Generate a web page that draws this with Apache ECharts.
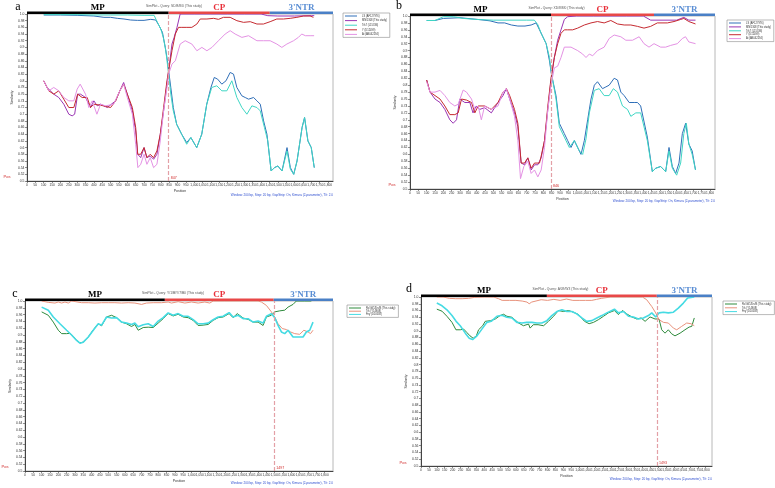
<!DOCTYPE html>
<html><head><meta charset="utf-8">
<script src="https://cdn.jsdelivr.net/npm/echarts/dist/echarts.min.js"></script>
<style>html,body{margin:0;padding:0;background:#fff}#c{width:775px;height:488px}</style>
</head><body><div id="c"></div>
<script>
// ---------------- DATA ----------------
const aTitle = 'SimPlot - Query: SD/8/8/0 (This study)';
const bTitle = 'SimPlot - Query: XD/8/8/0 (This study)';
const cTitle = 'SimPlot - Query: Y/1/B/Y/7/B0 (This study)';
const dTitle = 'SimPlot - Query: A/09/W3 (This study)';
const footerText = 'Window: 200 bp, Step: 20 bp, GapStrip: On, Kimura (2-parameter), T/t: 2.0';

const aNames = ['LS (AF127976)', 'MN/1308 (This study)', 'Trk7 (L15336)', 'Y (D12499)', 'Ai (AB042294)'];
const bNames = ['LS (AF127976)', 'MN/1308 (This study)', 'Trk7 (L15336)', 'Y (D12499)', 'Ai (AB042294)'];
const cNames = ['Rs/Gl/1/Dn/B (This study)', 'Trk (Y14908)', 'Fny (D10538)'];
const dNames = ['Rs/Gl/1/Dn/B (This study)', 'Trk (Y14908)', 'Fny (D10538)'];

const breakpoints = [847, 846, 1497, 1493];
const regionNames = ['MP', 'CP', "3'NTR"];
const regionEndsA = [0, 847, 1452, 1830];
const regionEndsB = [0, 846, 1464, 1830];
const regionEndsC = [0, 840, 1494, 1850];
const regionEndsD = [0, 796, 1491, 1840];

// panel a
const aLS = [[100,0.997],[200,0.997],[300,0.996],[400,0.994],[460,0.99],[500,0.99],[540,0.987],[580,0.985],[620,0.982],[660,0.981],[700,0.981],[740,0.984],[770,0.982],[790,0.965],[810,0.945],[827,0.90],[840,0.86],[847,0.83],[860,0.78],[875,0.72],[895,0.67],[925,0.64],[955,0.615],[980,0.63],[1015,0.60],[1045,0.64],[1075,0.73],[1100,0.78],[1120,0.81],[1140,0.805],[1165,0.79],[1190,0.80],[1215,0.825],[1235,0.82],[1255,0.78],[1285,0.755],[1305,0.75],[1325,0.745],[1355,0.75],[1375,0.74],[1395,0.73],[1415,0.68],[1435,0.64],[1460,0.53],[1480,0.54],[1500,0.545],[1525,0.53],[1555,0.60],[1575,0.54],[1595,0.52],[1615,0.56],[1645,0.66],[1660,0.69],[1680,0.62],[1700,0.60],[1718,0.54]];
const aMN = [[100,0.80],[120,0.78],[160,0.76],[190,0.75],[220,0.73],[250,0.70],[270,0.695],[285,0.70],[303,0.76],[320,0.76],[350,0.75],[380,0.72],[400,0.74],[420,0.725],[440,0.73],[480,0.72],[530,0.74],[555,0.77],[578,0.795],[600,0.76],[630,0.71],[650,0.65],[662,0.58],[680,0.57],[700,0.60],[717,0.57],[737,0.575],[757,0.565],[777,0.58],[797,0.64],[817,0.71],[837,0.79],[847,0.83],[867,0.91],[880,0.93],[897,0.96],[916,1.0],[1000,1.0],[1100,1.0],[1200,1.0],[1300,1.0],[1400,1.0],[1440,0.995],[1500,0.994],[1600,0.994],[1700,0.995],[1718,0.995]];
const aTrk = [[100,0.998],[200,0.998],[300,0.998],[400,0.997],[500,0.997],[600,0.997],[700,0.996],[760,0.996],[780,0.975],[800,0.955],[815,0.93],[830,0.89],[847,0.82],[860,0.76],[875,0.71],[895,0.67],[925,0.64],[955,0.61],[980,0.63],[1015,0.60],[1045,0.64],[1075,0.73],[1105,0.78],[1135,0.785],[1165,0.77],[1195,0.77],[1225,0.80],[1255,0.75],[1285,0.72],[1315,0.70],[1345,0.725],[1375,0.72],[1395,0.71],[1420,0.66],[1440,0.62],[1460,0.53],[1480,0.54],[1500,0.545],[1525,0.53],[1555,0.59],[1575,0.535],[1595,0.52],[1615,0.56],[1645,0.66],[1660,0.69],[1680,0.62],[1700,0.60],[1718,0.54]];
const aY = [[100,0.80],[130,0.77],[160,0.76],[190,0.77],[220,0.745],[250,0.72],[280,0.72],[303,0.76],[330,0.75],[360,0.75],[380,0.72],[400,0.73],[440,0.727],[500,0.72],[530,0.74],[555,0.77],[578,0.79],[600,0.76],[630,0.72],[650,0.66],[662,0.58],[680,0.58],[700,0.60],[717,0.57],[737,0.58],[757,0.57],[777,0.59],[797,0.64],[817,0.72],[837,0.80],[847,0.83],[867,0.89],[887,0.94],[906,0.96],[926,0.96],[956,0.96],[986,0.96],[1016,0.97],[1036,0.985],[1076,0.985],[1116,0.987],[1145,0.984],[1175,0.99],[1215,0.99],[1255,0.98],[1295,0.975],[1335,0.977],[1375,0.97],[1414,0.97],[1454,0.977],[1494,0.985],[1534,0.985],[1574,0.987],[1614,0.99],[1654,0.994],[1693,0.994],[1713,0.99]];
const aAi = [[100,0.80],[130,0.77],[160,0.78],[190,0.77],[220,0.75],[250,0.74],[280,0.74],[300,0.775],[318,0.79],[350,0.76],[370,0.72],[390,0.74],[418,0.70],[440,0.73],[470,0.725],[518,0.73],[555,0.77],[578,0.79],[600,0.75],[630,0.70],[650,0.61],[663,0.54],[680,0.55],[700,0.58],[717,0.55],[737,0.57],[757,0.54],[777,0.55],[797,0.62],[817,0.71],[837,0.78],[847,0.82],[867,0.85],[887,0.86],[916,0.91],[946,0.92],[986,0.91],[1016,0.89],[1046,0.90],[1076,0.89],[1106,0.90],[1145,0.92],[1185,0.94],[1215,0.95],[1245,0.94],[1285,0.93],[1325,0.935],[1375,0.92],[1414,0.92],[1454,0.92],[1494,0.91],[1524,0.90],[1554,0.91],[1594,0.92],[1623,0.93],[1643,0.94],[1665,0.935],[1693,0.935],[1717,0.935]];

// panel b
const bLS = [[100,0.987],[150,0.987],[200,0.993],[300,0.995],[408,0.99],[480,0.986],[528,0.98],[568,0.98],[608,0.974],[647,0.971],[690,0.971],[727,0.974],[757,0.98],[777,0.96],[797,0.94],[817,0.92],[837,0.87],[846,0.84],[856,0.815],[876,0.77],[896,0.69],[926,0.66],[946,0.64],[966,0.62],[986,0.64],[1006,0.62],[1026,0.60],[1046,0.64],[1066,0.70],[1086,0.76],[1106,0.80],[1125,0.81],[1155,0.79],[1175,0.795],[1195,0.80],[1225,0.82],[1245,0.815],[1265,0.78],[1285,0.77],[1315,0.75],[1345,0.75],[1365,0.75],[1384,0.74],[1424,0.65],[1454,0.55],[1474,0.56],[1504,0.565],[1534,0.55],[1554,0.62],[1574,0.565],[1594,0.545],[1614,0.575],[1634,0.66],[1654,0.69],[1673,0.63],[1693,0.61],[1713,0.555]];
const bMN = [[100,0.815],[120,0.78],[150,0.76],[180,0.75],[209,0.73],[239,0.70],[259,0.69],[279,0.70],[299,0.76],[329,0.75],[359,0.75],[378,0.72],[398,0.74],[418,0.73],[448,0.735],[488,0.72],[528,0.75],[558,0.77],[578,0.79],[598,0.76],[627,0.72],[647,0.68],[667,0.575],[687,0.57],[707,0.59],[727,0.555],[747,0.57],[767,0.57],[787,0.59],[807,0.64],[827,0.73],[846,0.815],[866,0.88],[886,0.93],[906,0.96],[926,0.99],[946,0.998],[1000,1.0],[1100,1.0],[1200,1.0],[1300,1.0],[1400,1.0],[1444,0.988],[1500,0.988],[1600,0.988],[1643,0.996],[1673,0.988],[1713,0.988]];
const bTrk = [[100,0.987],[150,0.987],[200,0.998],[260,0.998],[320,0.993],[400,0.99],[500,0.988],[600,0.988],[700,0.988],[746,0.988],[767,0.975],[787,0.95],[817,0.92],[837,0.88],[846,0.84],[856,0.815],[876,0.76],[896,0.68],[926,0.65],[956,0.62],[986,0.64],[1016,0.61],[1036,0.60],[1056,0.645],[1076,0.72],[1106,0.785],[1135,0.79],[1165,0.77],[1195,0.77],[1220,0.79],[1245,0.78],[1275,0.74],[1305,0.73],[1325,0.71],[1355,0.72],[1384,0.72],[1424,0.64],[1454,0.55],[1474,0.56],[1504,0.565],[1534,0.55],[1554,0.61],[1574,0.56],[1600,0.54],[1624,0.575],[1643,0.66],[1658,0.69],[1673,0.63],[1693,0.60],[1713,0.555]];
const bY = [[100,0.815],[120,0.78],[150,0.77],[180,0.76],[209,0.74],[239,0.715],[269,0.715],[289,0.72],[309,0.76],[339,0.757],[369,0.75],[389,0.72],[409,0.74],[448,0.74],[488,0.73],[528,0.75],[558,0.78],[578,0.79],[598,0.77],[627,0.73],[647,0.69],[667,0.575],[687,0.575],[707,0.59],[727,0.56],[747,0.575],[777,0.575],[787,0.595],[807,0.64],[827,0.74],[846,0.82],[866,0.88],[886,0.92],[906,0.95],[926,0.96],[946,0.96],[976,0.96],[1006,0.965],[1046,0.974],[1086,0.98],[1125,0.984],[1165,0.98],[1205,0.987],[1245,0.977],[1285,0.974],[1325,0.974],[1365,0.97],[1404,0.965],[1444,0.97],[1484,0.98],[1544,0.98],[1584,0.984],[1624,0.99],[1643,0.993],[1673,0.984],[1713,0.977]];
const bAi = [[100,0.81],[120,0.78],[150,0.78],[180,0.785],[209,0.77],[239,0.75],[269,0.74],[289,0.745],[319,0.786],[339,0.78],[369,0.76],[389,0.73],[409,0.74],[428,0.70],[448,0.74],[488,0.73],[528,0.74],[558,0.78],[578,0.79],[598,0.76],[627,0.71],[647,0.64],[663,0.53],[683,0.565],[707,0.58],[727,0.545],[747,0.555],[767,0.535],[787,0.555],[807,0.62],[827,0.73],[846,0.80],[866,0.85],[886,0.855],[906,0.88],[926,0.91],[966,0.91],[1006,0.90],[1036,0.89],[1056,0.88],[1076,0.89],[1096,0.885],[1125,0.90],[1165,0.91],[1195,0.935],[1225,0.945],[1265,0.94],[1295,0.93],[1335,0.93],[1375,0.94],[1404,0.92],[1434,0.91],[1464,0.92],[1504,0.91],[1534,0.91],[1564,0.915],[1604,0.92],[1634,0.935],[1653,0.94],[1673,0.925],[1713,0.92]];

// panel c
const cRs = [[100,0.968],[140,0.958],[170,0.938],[200,0.914],[220,0.904],[250,0.904],[270,0.905],[290,0.896],[310,0.884],[330,0.877],[350,0.879],[380,0.894],[410,0.915],[440,0.933],[460,0.927],[490,0.953],[520,0.958],[550,0.951],[580,0.938],[610,0.933],[640,0.925],[660,0.931],[680,0.914],[710,0.922],[740,0.923],[770,0.922],[800,0.935],[830,0.948],[860,0.963],[890,0.956],[920,0.961],[950,0.953],[980,0.951],[1010,0.943],[1040,0.928],[1070,0.929],[1100,0.931],[1130,0.943],[1160,0.951],[1190,0.953],[1226,0.963],[1250,0.951],[1275,0.963],[1310,0.95],[1340,0.946],[1370,0.938],[1400,0.938],[1430,0.928],[1450,0.953],[1480,0.958],[1500,0.968],[1530,0.971],[1560,0.973],[1580,0.982],[1610,0.99],[1630,1.0],[1680,1.0],[1720,1.0]];
const cTrk = [[100,1.0],[140,0.996],[180,0.994],[200,0.997],[220,0.994],[240,0.997],[260,0.994],[280,1.0],[340,0.995],[380,0.995],[420,0.994],[460,0.995],[500,0.995],[540,0.995],[580,0.994],[620,0.995],[660,0.994],[700,0.99],[730,0.994],[770,0.995],[820,0.995],[860,0.997],[880,0.994],[920,0.998],[960,0.994],[1000,0.997],[1040,0.994],[1080,0.997],[1110,0.994],[1130,1.0],[1200,1.0],[1300,1.0],[1400,1.0],[1420,0.997],[1450,0.987],[1480,0.968],[1500,0.953],[1520,0.933],[1545,0.919],[1570,0.916],[1595,0.909],[1620,0.904],[1650,0.902],[1675,0.914],[1700,0.909],[1715,0.904],[1730,0.914]];
const cFny = [[100,0.982],[140,0.973],[170,0.953],[210,0.933],[250,0.914],[280,0.90],[310,0.884],[330,0.876],[350,0.879],[380,0.894],[410,0.914],[440,0.933],[460,0.929],[490,0.953],[520,0.95],[550,0.951],[580,0.938],[610,0.935],[640,0.931],[660,0.935],[680,0.924],[710,0.93],[740,0.933],[770,0.925],[800,0.941],[830,0.951],[860,0.965],[890,0.958],[920,0.963],[950,0.955],[980,0.955],[1010,0.945],[1040,0.933],[1070,0.933],[1100,0.935],[1130,0.945],[1160,0.953],[1190,0.955],[1226,0.966],[1250,0.953],[1280,0.958],[1310,0.948],[1340,0.948],[1370,0.938],[1400,0.941],[1430,0.935],[1450,0.955],[1480,0.963],[1500,0.951],[1520,0.928],[1540,0.909],[1560,0.904],[1580,0.914],[1610,0.894],[1640,0.894],[1670,0.894],[1690,0.909],[1710,0.914],[1730,0.938]];

// panel d
const dRs = [[100,0.964],[133,0.958],[164,0.943],[196,0.925],[221,0.903],[248,0.903],[270,0.905],[290,0.895],[310,0.885],[330,0.878],[350,0.885],[364,0.903],[390,0.915],[406,0.928],[440,0.93],[470,0.935],[500,0.945],[522,0.949],[543,0.943],[575,0.94],[617,0.923],[648,0.915],[680,0.92],[690,0.908],[710,0.918],[740,0.918],[775,0.915],[806,0.928],[838,0.943],[869,0.96],[901,0.957],[933,0.96],[964,0.955],[996,0.948],[1034,0.928],[1063,0.921],[1091,0.925],[1122,0.933],[1154,0.943],[1185,0.953],[1223,0.96],[1248,0.948],[1274,0.96],[1301,0.95],[1333,0.941],[1364,0.935],[1392,0.938],[1417,0.928],[1448,0.941],[1480,0.935],[1505,0.935],[1522,0.903],[1543,0.893],[1564,0.903],[1585,0.891],[1606,0.885],[1638,0.893],[1669,0.903],[1695,0.911],[1712,0.913],[1728,0.938]];
const dTrk = [[100,1.0],[140,1.0],[180,0.996],[220,0.995],[260,0.995],[300,0.996],[340,0.999],[400,1.0],[460,1.0],[490,0.995],[513,0.99],[560,0.99],[600,0.99],[640,0.988],[670,0.985],[684,0.98],[700,0.985],[760,0.992],[800,0.99],[840,0.993],[880,0.99],[920,0.994],[960,0.99],[1000,0.99],[1040,0.99],[1080,0.99],[1110,0.993],[1140,0.996],[1200,1.0],[1300,1.0],[1400,1.0],[1427,0.992],[1459,0.972],[1484,0.953],[1505,0.933],[1533,0.925],[1564,0.923],[1596,0.908],[1617,0.903],[1648,0.913],[1680,0.923],[1707,0.921],[1728,0.915]];
const dFny = [[100,0.982],[133,0.974],[164,0.962],[196,0.945],[222,0.928],[248,0.915],[280,0.893],[305,0.878],[326,0.874],[354,0.885],[385,0.905],[417,0.925],[444,0.928],[480,0.943],[512,0.946],[543,0.94],[575,0.938],[606,0.925],[638,0.923],[669,0.925],[701,0.925],[733,0.923],[764,0.923],[796,0.93],[827,0.945],[859,0.957],[891,0.962],[922,0.957],[954,0.957],[985,0.95],[1017,0.938],[1048,0.928],[1080,0.93],[1112,0.938],[1143,0.945],[1175,0.953],[1223,0.964],[1248,0.953],[1280,0.957],[1312,0.943],[1343,0.941],[1375,0.935],[1406,0.938],[1438,0.945],[1459,0.953],[1484,0.941],[1505,0.953],[1533,0.955],[1564,0.953],[1596,0.955],[1627,0.967],[1659,0.982],[1686,0.997],[1695,1.0],[1728,1.0]];

// ---------------- LAYOUT / STYLE ----------------
const colA = ['#2f6fb8', '#9a35b3', '#3fd6c4', '#c52a30', '#e492e4'];
const colC = ['#2e8a3c', '#e8927c', '#45dbe3'];
const widA = [1, 1, 1, 1, 1];
const widC = [1, 1, 1.6];

const panels = [
  {letter:'a', title:aTitle, names:aNames, data:[aLS,aMN,aTrk,aY,aAi], cols:colA, wids:widA,
   grid:{left:27, top:14, width:306, height:167}, xMax:1830, regions:regionEndsA,
   legend:[343,13], legendGap:1.6, letterPos:[18,7], posLab:[7,177], footerY:195},
  {letter:'b', title:bTitle, names:bNames, data:[bLS,bMN,bTrk,bY,bAi], cols:colA, wids:widA,
   grid:{left:410, top:16, width:305, height:173}, xMax:1830, regions:regionEndsB,
   legend:[727,20], legendGap:0.9, letterPos:[399,6], posLab:[392,185], footerY:201},
  {letter:'c', title:cTitle, names:cNames, data:[cRs,cTrk,cFny], cols:colC, wids:widC,
   grid:{left:25, top:301, width:308, height:170}, xMax:1850, regions:regionEndsC,
   legend:[347,305], legendGap:0.2, letterPos:[15,294], posLab:[5,467], footerY:483},
  {letter:'d', title:dTitle, names:dNames, data:[dRs,dTrk,dFny], cols:colC, wids:widC,
   grid:{left:421, top:297, width:291, height:169}, xMax:1840, regions:regionEndsD,
   legend:[723,301], legendGap:0.8, letterPos:[409,289], posLab:[403,463], footerY:479}
];

const regionBarCols = ['#000000', '#e84848', '#4a80c6'];
const regionTextCols = ['#000000', '#e8303a', '#5a8ed4'];

function fmtX(v){ return v >= 1000 ? Math.floor(v/1000) + ',' + String(v%1000).padStart(3,'0') : String(v); }
function fmtY(v){ const r = Math.round(v*100)/100; return Math.abs(r*10 - Math.round(r*10)) < 1e-6 ? r.toFixed(1) : r.toFixed(2); }

const chart = echarts.init(document.getElementById('c'), null, {renderer:'canvas'});

const option = {
  animation:false,
  backgroundColor:'#fff',
  grid: panels.map(p => Object.assign({show:true, borderColor:'#b8b8b8', borderWidth:1, containLabel:false}, p.grid)),
  xAxis: panels.map((p,i) => ({
    type:'value', gridIndex:i, min:0, max:p.xMax, interval:50,
    name:'Position', nameLocation:'middle', nameGap:8, nameTextStyle:{fontSize:3.5, color:'#333'},
    axisLine:{show:true, lineStyle:{color:'#444', width:1}},
    axisTick:{show:true, length:2, lineStyle:{color:'#444', width:0.6}},
    axisLabel:{fontSize:3.2, color:'#333', margin:2.5, formatter:fmtX, showMaxLabel:false, hideOverlap:false},
    splitLine:{show:false}
  })),
  yAxis: panels.map((p,i) => ({
    type:'value', gridIndex:i, min:0.5, max:1.0, interval:0.02,
    name:'Similarity', nameLocation:'middle', nameGap:11, nameRotate:90, nameTextStyle:{fontSize:3.5, color:'#333'},
    axisLine:{show:true, lineStyle:{color:'#444', width:1}},
    axisTick:{show:true, length:2, lineStyle:{color:'#444', width:0.6}},
    axisLabel:{fontSize:3.4, color:'#333', margin:2.5, formatter:fmtY},
    splitLine:{show:false}
  })),
  legend: panels.map(p => ({
    data:p.names, orient:'vertical', left:p.legend[0], top:p.legend[1],
    icon:'rect', itemWidth:12, itemHeight:1, itemGap:p.legendGap,
    padding:[1.5,3,1.5,2], borderColor:'#8a8a8a', borderWidth:0.6, backgroundColor:'#fff',
    textStyle:{fontSize:2.6, color:'#333'}, selectedMode:false
  })),
  series: []
};

panels.forEach((p,i) => {
  p.data.forEach((d,k) => {
    const s = {
      type:'line', name:p.names[k], data:d, xAxisIndex:i, yAxisIndex:i,
      symbol:'none', showSymbol:false, silent:true,
      lineStyle:{color:p.cols[k], width:p.wids[k]}, itemStyle:{color:p.cols[k]}
    };
    if (k === 0) {
      s.markLine = {silent:true, symbol:'none', animation:false,
        lineStyle:{color:'#e3a0a6', type:[4,2], width:1.2},
        label:{show:false}, data:[{xAxis:breakpoints[i]}]};
    }
    option.series.push(s);
  });
});

chart.setOption(option);

// annotations (region bars, labels, titles, footer)
const g = [];
panels.forEach((p,i) => {
  const top = p.grid.top, bottom = top + p.grid.height, right = p.grid.left + p.grid.width;
  for (let k = 0; k < 3; k++) {
    const x0 = chart.convertToPixel({xAxisIndex:i}, p.regions[k]);
    const x1 = chart.convertToPixel({xAxisIndex:i}, p.regions[k+1]);
    g.push({type:'rect', silent:true, z:100, shape:{x:x0, y:top-2.4, width:x1-x0, height:2.4}, style:{fill:regionBarCols[k]}});
    g.push({type:'text', silent:true, z:100, x:(x0+x1)/2, y:top-6.5,
      style:{text:regionNames[k], fill:regionTextCols[k], font:'bold 9px "Liberation Serif", "DejaVu Serif", serif', align:'center', verticalAlign:'middle'}});
  }
  const xm = (p.grid.left + right)/2;
  g.push({type:'text', silent:true, z:100, x:xm - 6, y:top-7.5,
    style:{text:p.title, fill:'#555', font:'3.3px "Liberation Sans", sans-serif', align:'center', verticalAlign:'middle'}});
  g.push({type:'text', silent:true, z:100, x:p.letterPos[0], y:p.letterPos[1],
    style:{text:p.letter, fill:'#000', font:'12px "Liberation Serif", serif', align:'center', verticalAlign:'middle'}});
  g.push({type:'text', silent:true, z:100, x:p.posLab[0], y:p.posLab[1],
    style:{text:'Pos', fill:'#d02828', font:'4px "Liberation Sans", sans-serif', align:'center', verticalAlign:'middle'}});
  const xb = chart.convertToPixel({xAxisIndex:i}, breakpoints[i]);
  g.push({type:'text', silent:true, z:100, x:xb + 2, y:bottom - 3,
    style:{text:String(breakpoints[i]), fill:'#d02828', font:'3.6px "Liberation Sans", sans-serif', align:'left', verticalAlign:'middle'}});
  g.push({type:'text', silent:true, z:100, x:right, y:p.footerY,
    style:{text:footerText, fill:'#2f4fd0', font:'3.1px "Liberation Sans", sans-serif', align:'right', verticalAlign:'middle'}});
});
chart.setOption({graphic:{elements:g}});
</script></body></html>
